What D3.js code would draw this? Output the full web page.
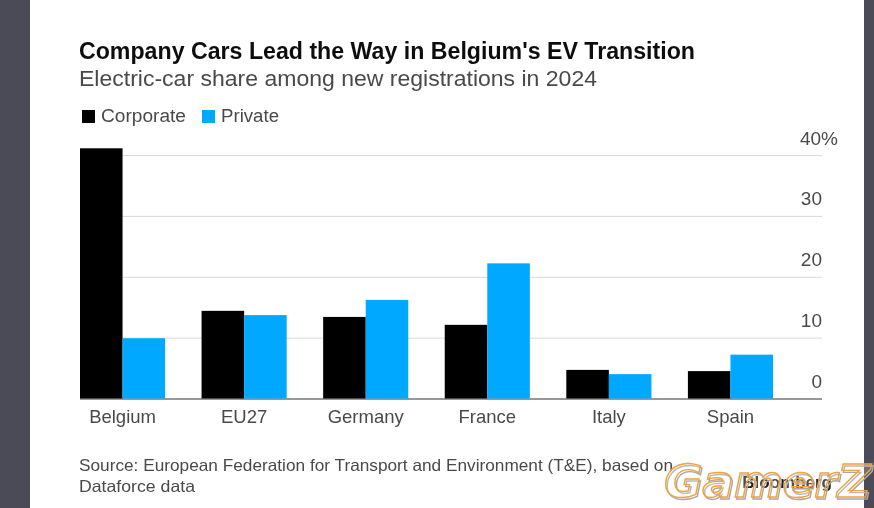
<!DOCTYPE html>
<html>
<head>
<meta charset="utf-8">
<script src="https://cdn.jsdelivr.net/npm/d3@7"></script>
<style>
    html, body { margin: 0; padding: 0; background: #4b4b57; }
    svg { display: block; font-family: "Liberation Sans", sans-serif; }
</style>
</head>
<body>
<svg id="chart" width="874" height="508"></svg>
<script>
// Values
const categories = ["Belgium", "EU27", "Germany", "France", "Italy", "Spain"];
const corporate = [41.1, 14.4, 13.4, 12.1, 4.7, 4.5];
const privateCars = [9.9, 13.7, 16.2, 22.2, 4.0, 7.2];
const seriesNames = ["Corporate", "Private"];
const yTicks = [0, 10, 20, 30, 40];
const sourceLines = [
    "Source: European Federation for Transport and Environment (T&E), based on",
    "Dataforce data"
];

const colors = { Corporate: "#000000", Private: "#00a9ff" };

const svg = d3.select("#chart");
const width = +svg.attr("width");
const height = +svg.attr("height");

// Reference is a soft screenshot, so everything gets a slight blur
svg.append("defs").append("filter")
    .attr("id", "soft")
    .attr("filterUnits", "userSpaceOnUse")
    .attr("x", 0).attr("y", 0).attr("width", width).attr("height", height)
    .append("feGaussianBlur").attr("stdDeviation", 0.6);

svg.append("rect").attr("width", width).attr("height", height).attr("fill", "#4b4b57");

const page = svg.append("g").attr("filter", "url(#soft)");
page.append("rect")
    .attr("x", 30).attr("y", -5)
    .attr("width", 834).attr("height", height + 10)
    .attr("fill", "#ffffff");

// Title block
page.append("text")
    .attr("x", 79).attr("y", 58.5)
    .attr("font-size", 23).attr("font-weight", 700).attr("fill", "#111111")
    .attr("textLength", 616).attr("lengthAdjust", "spacingAndGlyphs")
    .text("Company Cars Lead the Way in Belgium's EV Transition");
page.append("text")
    .attr("x", 79).attr("y", 85.5)
    .attr("font-size", 21.5).attr("fill", "#4a4a4a")
    .attr("textLength", 518).attr("lengthAdjust", "spacingAndGlyphs")
    .text("Electric-car share among new registrations in 2024");

// Legend
const legendX = { Corporate: 82, Private: 202 };
const legendWidth = { Corporate: 85, Private: 58 };
seriesNames.forEach(name => {
    page.append("rect")
        .attr("x", legendX[name]).attr("y", 110)
        .attr("width", 13).attr("height", 13)
        .attr("fill", colors[name]);
    page.append("text")
        .attr("x", legendX[name] + 19).attr("y", 122)
        .attr("font-size", 18).attr("fill", "#4a4a4a")
        .attr("textLength", legendWidth[name]).attr("lengthAdjust", "spacingAndGlyphs")
        .text(name);
});

// Scales
const xScale = d3.scaleBand()
    .domain(categories)
    .range([80, 773])
    .paddingInner(0.3)
    .paddingOuter(0);
const xSeries = d3.scaleBand()
    .domain(seriesNames)
    .range([0, xScale.bandwidth()]);
const yScale = d3.scaleLinear()
    .domain([0, 40])
    .range([398.5, 155]);

// Gridlines and right-hand labels
const yAxis = d3.axisRight(yScale)
    .tickValues(yTicks)
    .tickSize(0)
    .tickFormat(d => d === 40 ? "40%" : d);
const yGroup = page.append("g").call(yAxis);
yGroup.select(".domain").remove();
yGroup.selectAll("text")
    .attr("x", 822)
    .attr("y", -11)
    .attr("dy", 0)
    .attr("text-anchor", "end")
    .attr("font-size", 19)
    .attr("font-family", "\"Liberation Sans\", sans-serif")
    .attr("fill", "#4a4a4a");
yGroup.selectAll("text").filter(d => d === 40).attr("x", 838);
yGroup.selectAll("line")
    .attr("x1", 80).attr("x2", 822)
    .attr("stroke", d => d === 0 ? "#333333" : "#d9d9d9")
    .attr("stroke-width", d => d === 0 ? 1.2 : 1);

// Bars
const groups = page.selectAll(".country")
    .data(categories)
    .enter().append("g")
    .attr("class", "country")
    .attr("transform", d => `translate(${xScale(d)}, 0)`);
groups.append("rect")
    .attr("x", xSeries("Corporate"))
    .attr("y", (d, i) => yScale(corporate[i]))
    .attr("width", xSeries.bandwidth())
    .attr("height", (d, i) => yScale(0) - yScale(corporate[i]))
    .attr("fill", colors.Corporate);
groups.append("rect")
    .attr("x", xSeries("Private"))
    .attr("y", (d, i) => yScale(privateCars[i]))
    .attr("width", xSeries.bandwidth())
    .attr("height", (d, i) => yScale(0) - yScale(privateCars[i]))
    .attr("fill", colors.Private);

// Category labels
const xAxis = d3.axisBottom(xScale).tickSize(0);
const xGroup = page.append("g")
    .attr("transform", `translate(0, ${yScale(0)})`)
    .call(xAxis);
xGroup.select(".domain").remove();
xGroup.selectAll("text")
    .attr("y", 24)
    .attr("dy", 0)
    .attr("font-size", 18.5)
    .attr("font-family", "\"Liberation Sans\", sans-serif")
    .attr("fill", "#4a4a4a");

// Source and logo
sourceLines.forEach((line, i) => {
    page.append("text")
        .attr("x", 79).attr("y", 471 + i * 21)
        .attr("font-size", 16.5).attr("fill", "#4a4a4a")
        .attr("textLength", i === 0 ? 594 : 116).attr("lengthAdjust", "spacingAndGlyphs")
        .text(line);
});
page.append("text")
    .attr("x", 832).attr("y", 488)
    .attr("text-anchor", "end")
    .attr("font-size", 17).attr("font-weight", 700).attr("fill", "#222222")
    .text("Bloomberg");

// Watermark sits on top, grey shadow first
[["#a8a8a8", 1.5, 1.5, 0, 1.4], ["#f0a33c", 0, 0, 0.2, 1.4]].forEach(([stroke, dx, dy, fillOpacity, sw]) => {
    page.append("text")
        .attr("x", 664 + dx).attr("y", 497 + dy)
        .attr("font-size", 45).attr("font-style", "italic").attr("font-weight", 700)
        .attr("font-family", "\"DejaVu Sans\", sans-serif")
        .attr("textLength", 207)
        .attr("lengthAdjust", "spacingAndGlyphs")
        .attr("fill", "#ffffff").attr("fill-opacity", fillOpacity)
        .attr("stroke", stroke).attr("stroke-width", sw)
        .text("GamerZ");
});
</script>
</body>
</html>
